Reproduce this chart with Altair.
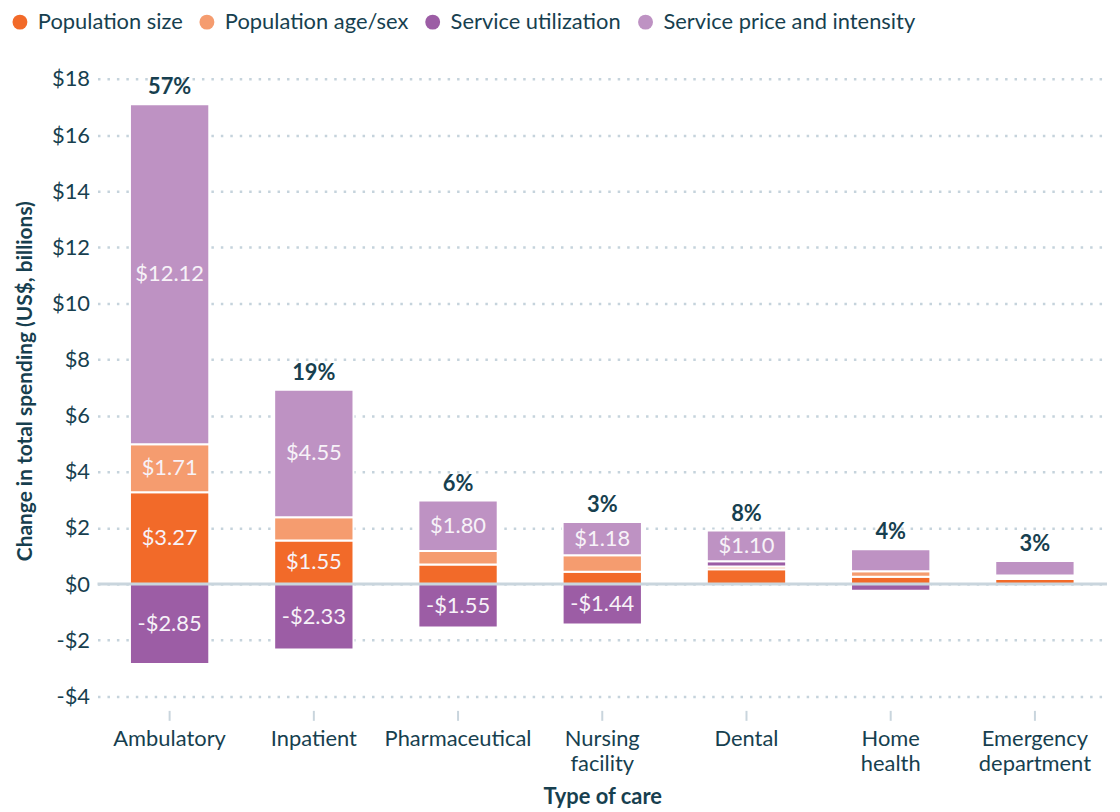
import altair as alt
import pandas as pd

care = ["Ambulatory", "Inpatient", "Pharmaceutical", "Nursing facility", "Dental", "Home health", "Emergency department"]
components = ["Population size", "Population age/sex", "Service utilization", "Service price and intensity"]
colors = ["#F26A29", "#F59C6F", "#9C5DA5", "#BE92C3"]

pop_size = [3.27, 1.55, 0.70, 0.44, 0.53, 0.26, 0.18]
pop_age = [1.71, 0.83, 0.48, 0.59, 0.10, 0.20, 0.06]
utilization = [-2.85, -2.33, -1.55, -1.44, 0.18, -0.24, 0.07]
price = [12.12, 4.55, 1.80, 1.18, 1.10, 0.78, 0.51]
pct = ["57%", "19%", "6%", "3%", "8%", "4%", "3%"]
y_ticks = [-4, -2, 0, 2, 4, 6, 8, 10, 12, 14, 16, 18]

rows = []
for i, c in enumerate(care):
    for k, (comp, vals) in enumerate(zip(components, [pop_size, pop_age, utilization, price])):
        rows.append({"care": c, "component": comp, "value": vals[i], "ord": k, "pct": pct[i]})
df = pd.DataFrame(rows)

TXT = "#173F4F"
FONT = "Lato"
FS = 22

xenc = alt.X("care:N", sort=care, title="Type of care",
             scale=alt.Scale(paddingInner=0.45, paddingOuter=0.225),
             axis=alt.Axis(labelAngle=0, labelExpr="split(datum.label, ' ')", labelFontSize=FS,
                           labelColor=TXT, labelFont=FONT, labelPadding=8, labelLineHeight=25,
                           titleFontSize=FS, titleFont=FONT, titleFontWeight="bold", titleColor=TXT,
                           titlePadding=13, domain=False, ticks=True, tickColor="#c9d5dd",
                           tickSize=10, tickWidth=2, grid=False))

yscale = alt.Scale(domain=[-4.5, 19], nice=False)

base = alt.Chart(df).transform_stack(
    stack="value", as_=["y0", "y1"], groupby=["care"], sort=[alt.SortField("ord")]
)

bars = base.mark_bar(stroke="white", strokeWidth=2).encode(
    x=xenc,
    y=alt.Y("y0:Q", scale=yscale, title="Change in total spending (US$, billions)",
            axis=alt.Axis(values=y_ticks,
                          labelExpr="datum.value < 0 ? '-$' + abs(datum.value) : '$' + datum.value",
                          labelFontSize=FS, labelColor=TXT, labelFont=FONT, labelPadding=8,
                          titleFontSize=21, titleFont=FONT, titleFontWeight="bold", titleColor=TXT,
                          titlePadding=16, domain=False, ticks=False,
                          grid=True, gridDash=[2.5, 7], gridColor="#c5d3dc", gridWidth=2.5)),
    y2="y1:Q",
    color=alt.Color("component:N", sort=components,
                    scale=alt.Scale(domain=components, range=colors),
                    legend=alt.Legend(title=None, orient="none", legendX=-89, legendY=-40,
                                      direction="horizontal", symbolType="circle", symbolSize=225,
                                      symbolStrokeWidth=0, labelFontSize=FS, labelFont=FONT,
                                      labelColor=TXT, labelOffset=7, columnPadding=13,
                                      labelLimit=400)),
)

seg_text = base.transform_filter("abs(datum.value) >= 1").transform_calculate(
    mid="(datum.y0 + datum.y1) / 2",
    lab="datum.value < 0 ? '-$' + format(abs(datum.value), '.2f') : '$' + format(datum.value, '.2f')",
).mark_text(color="#F7F2F8", fontSize=FS, font=FONT, baseline="middle").encode(
    x=alt.X("care:N", sort=care),
    y=alt.Y("mid:Q", scale=yscale),
    text="lab:N",
)

zero = alt.Chart(pd.DataFrame({"z": [0]})).mark_rule(color="#c9d5dd", strokeWidth=3).encode(
    y=alt.Y("z:Q", scale=yscale)
)

pct_text = alt.Chart(df).transform_filter("datum.value > 0").transform_aggregate(
    top="sum(value)", groupby=["care", "pct"]
).mark_text(color=TXT, fontSize=FS, font=FONT, fontWeight="bold", baseline="bottom", dy=-5).encode(
    x=alt.X("care:N", sort=care),
    y=alt.Y("top:Q", scale=yscale),
    text="pct:N",
)

chart = alt.layer(bars, zero, seg_text, pct_text).properties(
    width=1015, height=663,
    autosize=alt.AutoSizeParams(type="none"),
    padding={"left": 90, "top": 41, "right": 5, "bottom": 100},
).configure_view(stroke=None)

chart.save("out.html", embed_options={"renderer": "svg", "actions": False})
